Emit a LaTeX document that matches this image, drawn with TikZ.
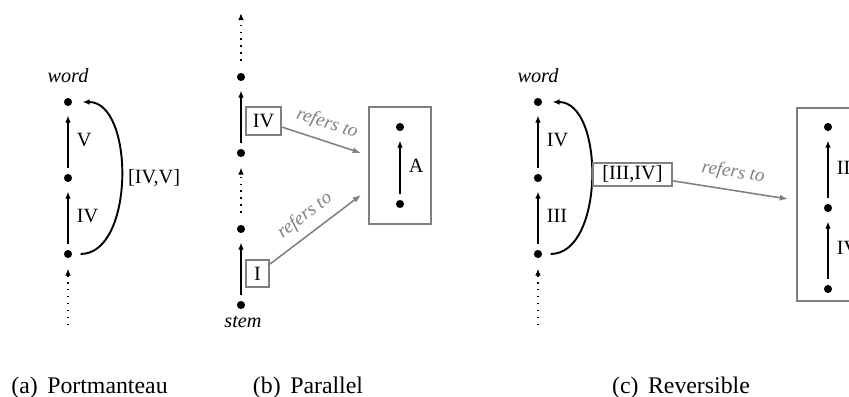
\documentclass[tikz,border=0pt]{standalone}
\usepackage{fontspec}
\setmainfont{Liberation Serif}
\usetikzlibrary{arrows.meta,positioning}

\tikzset{
  pt/.style={circle, fill, inner sep=0pt, minimum size=3.4pt},
  lbl/.style={font=\fontsize{8.5}{10}\selectfont},
  edg/.style={line width=0.8pt, -{Latex[length=3pt,width=2.4pt]}, shorten <=2.5pt, shorten >=3.8pt},
  dotedge/.style={line width=0.8pt, dash pattern=on 0.6pt off 2.3pt, -{Latex[length=3pt,width=2.4pt]}},
  span/.style={line width=0.8pt, -{Latex[length=3pt,width=2.4pt]}, shorten <=3.4pt, shorten >=4.2pt},
  gbox/.style={draw=gray, line width=0.8pt, inner sep=3pt, lbl},
  refline/.style={gray, line width=0.65pt, -{Latex[length=3.5pt,width=2.6pt]}},
  reftxt/.style={gray, font=\itshape\fontsize{8}{9}\selectfont, midway, sloped, above},
}

\begin{document}
\begin{tikzpicture}[x=0.42pt, y=0.42pt]
            \useasboundingbox (0,0) rectangle (849,396);
            \clip (0,0) rectangle (849,396);

            % (a) Portmanteau
            \node [lbl, font=\itshape\fontsize{8.5}{10}\selectfont] (worda) at (68,320) {word};
            \node [pt] (a1) at (68,294) {};
            \node [pt] (a2) at (68,218) {};
            \node [pt] (a3) at (68,142) {};
            \coordinate (enda) at (68,71);

            \draw [edg] (a3) -- node[midway, right, lbl] {IV} (a2);
            \draw [edg] (a2) -- node[midway, right, lbl] {V} (a1);
            \draw [dotedge, shorten >=4.2pt] (enda) -- (a3);
            \draw [span] (a3) to[out=0, in=0, looseness=1.05] node[midway, right, lbl] {[IV,V]} (a1);

            % (b) Parallel
            \node [pt] (b1) at (241,91) {};
            \node [pt] (b2) at (241,167) {};
            \node [pt] (b3) at (241,243) {};
            \node [pt] (b4) at (241,319) {};
            \coordinate (endb) at (241,383);
            \node [lbl, font=\itshape\fontsize{8.5}{10}\selectfont] (stem) at (243,74) {stem};

            \draw [edg] (b1) -- (b2);
            \draw [dotedge, shorten <=5pt, shorten >=4.2pt] (b2) -- (b3);
            \draw [edg] (b3) -- (b4);
            \draw [dotedge, shorten <=5pt] (b4) -- (endb);

            \node [gbox, minimum width=14.7pt, minimum height=11.8pt] (boxIV) at (263.5,275) {IV};
            \node [gbox, minimum width=9.7pt, minimum height=11.3pt] (boxI) at (257.5,122.5) {I};

            \node [gbox, minimum width=26pt, minimum height=49.1pt] (boxA) at (400,230.5) {};
            \node [pt] (A1) at (400,192) {};
            \node [pt] (A2) at (400,269) {};
            \draw [edg] (A1) -- node[midway, right, lbl] {A} (A2);

            \coordinate (tgt1) at (361,243);
            \coordinate (tgt2) at (361,201);
            \draw [refline] (boxIV) -- node[reftxt] {refers to} (tgt1);
            \draw [refline] (boxI) -- node[reftxt] {refers to} (tgt2);

            % (c) Reversible
            \node [lbl, font=\itshape\fontsize{8.5}{10}\selectfont] (wordc) at (538,320) {word};
            \node [pt] (c1) at (538,294) {};
            \node [pt] (c2) at (538,218) {};
            \node [pt] (c3) at (538,142) {};
            \coordinate (endc) at (538,71);

            \draw [edg] (c3) -- node[midway, right, lbl] {III} (c2);
            \draw [edg] (c2) -- node[midway, right, lbl] {IV} (c1);
            \draw [dotedge, shorten >=4.2pt] (endc) -- (c3);
            \draw [span] (c3) to[out=0, in=0, looseness=1.05] (c1);

            \node [gbox, inner xsep=4pt, inner ysep=1.2pt, minimum height=9.7pt] (boxR) at (632.5,221.5) {[III,IV]};

            \node [gbox, minimum width=26pt, minimum height=81pt] (boxB) at (828,191.5) {};
            \node [pt] (d1) at (828,269) {};
            \node [pt] (d2) at (828,188) {};
            \node [pt] (d3) at (828,107) {};
            \draw [edg] (d3) -- node[midway, right, lbl] {IV} (d2);
            \draw [edg] (d2) -- node[midway, right, lbl] {III} (d1);

            \coordinate (tgt3) at (788,197);
            \draw [refline] (boxR) -- node[reftxt] {refers to} (tgt3);

            % captions
            \node [anchor=base] (capa) at (89.5,3) {(a)\hspace{4pt}Portmanteau};
            \node [anchor=base] (capb) at (308,3) {(b)\hspace{4pt}Parallel};
            \node [anchor=base] (capc) at (681,3) {(c)\hspace{4pt}Reversible};
\end{tikzpicture}
\end{document}
